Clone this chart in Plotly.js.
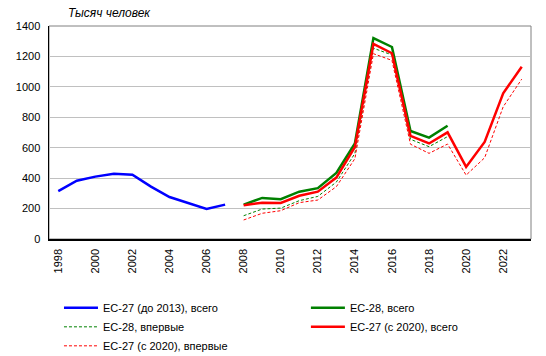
<!DOCTYPE html>
<html><head><meta charset="utf-8">
<script src="https://cdn.plot.ly/plotly-3.0.1.min.js"></script>
<style>body{margin:0;padding:0;background:#fff}#chart{width:546px;height:356px}</style>
</head><body><div id="chart"></div>
<script>
const yearsOld = [1998,1999,2000,2001,2002,2003,2004,2005,2006,2007];
const eu27oldTotal = [315,383,410,429,423,344,276,237,197,226];
const yearsEU28 = [2008,2009,2010,2011,2012,2013,2014,2015,2016,2017,2018,2019];
const eu28Total = [226,270,262,311,334,434,628,1321,1262,710,666,744];
const eu28First = [153,197,203,252,280,374,562,1254,1210,655,607,673];
const yearsEU27 = [2008,2009,2010,2011,2012,2013,2014,2015,2016,2017,2018,2019,2020,2021,2022,2023];
const eu27Total = [222,238,237,284,311,404,605,1282,1221,678,628,701,474,638,958,1132];
const eu27First = [125,169,186,239,256,344,528,1218,1174,623,563,624,420,534,869,1051];
const labels = ['ЕС-27 (до 2013), всего','ЕС-28, всего','ЕС-28, впервые','ЕС-27 (с 2020), всего','ЕС-27 (с 2020), впервые'];

const traces = [
 {x:yearsOld,y:eu27oldTotal,name:labels[0],mode:'lines',line:{color:'#0000ff',width:2.5},legend:'legend',legendrank:1},
 {x:yearsEU28,y:eu28Total,name:labels[1],mode:'lines',line:{color:'#008000',width:2.5},legend:'legend2',legendrank:1},
 {x:yearsEU28,y:eu28First,name:labels[2],mode:'lines',line:{color:'#008000',width:1,dash:'3px,2px'},legend:'legend',legendrank:2},
 {x:yearsEU27,y:eu27Total,name:labels[3],mode:'lines',line:{color:'#ff0000',width:2.5},legend:'legend2',legendrank:2},
 {x:yearsEU27,y:eu27First,name:labels[4],mode:'lines',line:{color:'#ff0000',width:1,dash:'3px,2px'},legend:'legend',legendrank:3}
];
const legBase = {orientation:'v',xanchor:'left',yanchor:'top',y:-0.255,itemwidth:34,font:{size:11},tracegroupgap:0,traceorder:'normal'};
const layout = {
 width:546,height:356,
 margin:{l:49,r:15,t:26,b:117,autoexpand:false},
 paper_bgcolor:'#fff',plot_bgcolor:'#fff',
 font:{family:'Liberation Sans, Arial, sans-serif',size:11,color:'#000'},
 showlegend:true,
 legend:Object.assign({},legBase,{x:0.0207}),
 legend2:Object.assign({},legBase,{x:0.533}),
 xaxis:{range:[1997.5,2023.5],tick0:1998,dtick:2,tickangle:-90,showgrid:false,zeroline:false,showline:true,linecolor:'#000',linewidth:1.5,ticks:'outside',ticklen:4,tickcolor:'rgba(0,0,0,0)',tickfont:{size:11},automargin:false},
 yaxis:{range:[0,1400],dtick:200,showgrid:true,gridcolor:'#c0c0c0',gridwidth:1,zeroline:false,showline:true,linecolor:'#000',linewidth:1.5,ticks:'outside',ticklen:5,tickcolor:'rgba(0,0,0,0)',tickfont:{size:11},automargin:false},
 shapes:[{type:'rect',xref:'paper',yref:'paper',x0:0,x1:1,y0:0,y1:1,line:{color:'#808080',width:1},layer:'below'}],
 annotations:[{text:'<i>Тысяч человек</i>',xref:'paper',yref:'paper',x:0.035,y:1,xanchor:'left',yanchor:'bottom',yshift:4,showarrow:false,font:{size:12}}]
};
Plotly.newPlot('chart',traces,layout,{displayModeBar:false,staticPlot:true});
</script></body></html>
